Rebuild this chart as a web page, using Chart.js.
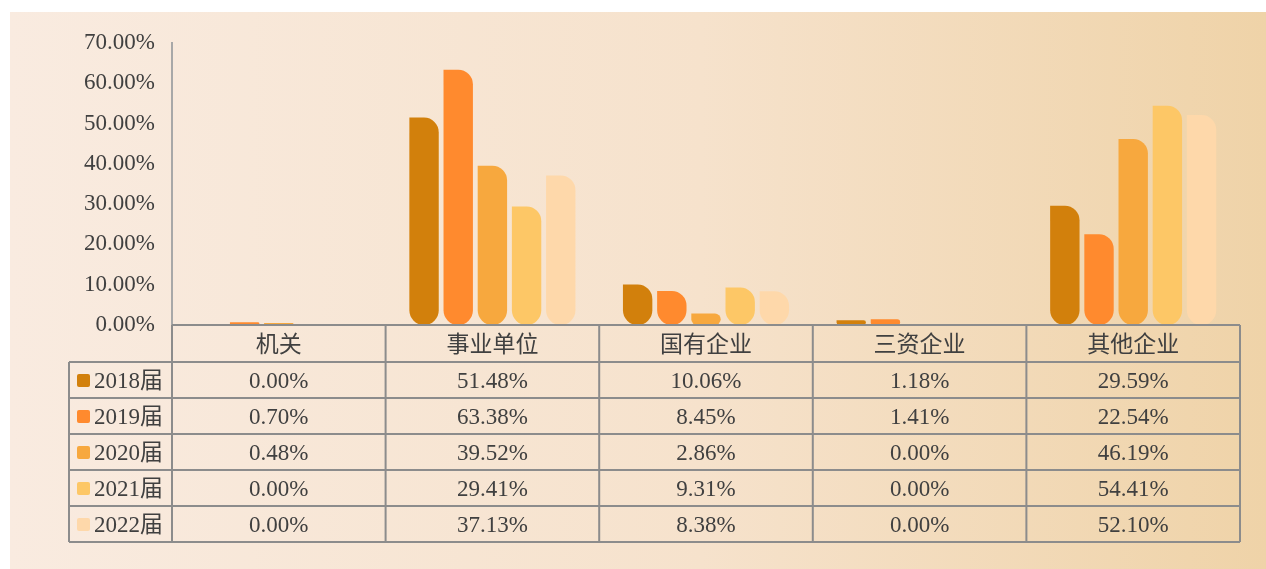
<!DOCTYPE html>
<html>
<head>
<meta charset="utf-8">
<script src="https://cdn.jsdelivr.net/npm/chart.js@4"></script>
<style>
  html, body { margin: 0; padding: 0; background: #fff; }
  #wrap {
    position: absolute; left: 10px; top: 12px; width: 1256px; height: 557px;
    background: linear-gradient(to right, #f9ebe0 0%, #f6e2cc 55%, #efd3a8 100%);
  }
</style>
</head>
<body>
<div id="wrap"><canvas id="jobChart" width="1256" height="557"></canvas></div>
<script>
// categories and series (percent)
const categories = ["机关", "事业单位", "国有企业", "三资企业", "其他企业"];
const years = ["2018届", "2019届", "2020届", "2021届", "2022届"];
const y2018 = [0.00, 51.48, 10.06, 1.18, 29.59];
const y2019 = [0.70, 63.38, 8.45, 1.41, 22.54];
const y2020 = [0.48, 39.52, 2.86, 0.00, 46.19];
const y2021 = [0.00, 29.41, 9.31, 0.00, 54.41];
const y2022 = [0.00, 37.13, 8.38, 0.00, 52.10];
const colors = ["#d2800c", "#ff8a2e", "#f7a83e", "#fdc766", "#fed8aa"];

const FONT = "'Liberation Serif', 'Noto Sans CJK SC', serif";
const TEXT = "#404040";
const LINE = "#8c8c8c";

// Draws the data table under the plot, using the x scale for columns
const dataTable = {
  id: "dataTable",
  afterDraw(chart) {
    const { ctx, chartArea, scales } = chart;
    const x = scales.x;
    const colW = (chartArea.right - chartArea.left) / categories.length;
    const top = chartArea.bottom;
    const headH = 37, rowH = 36;
    const leftX = 59;
    const bottom = top + headH + rowH * years.length;

    ctx.save();
    ctx.strokeStyle = LINE;
    ctx.lineWidth = 2;
    ctx.beginPath();
    // header top line
    ctx.moveTo(chartArea.left, top);
    ctx.lineTo(chartArea.right, top);
    // row lines
    for (let r = 0; r <= years.length; r++) {
      const y = top + headH + r * rowH;
      ctx.moveTo(leftX, y);
      ctx.lineTo(chartArea.right, y);
    }
    // vertical lines
    ctx.moveTo(leftX, top + headH);
    ctx.lineTo(leftX, bottom);
    for (let c = 0; c <= categories.length; c++) {
      const xx = chartArea.left + c * colW;
      ctx.moveTo(xx, top);
      ctx.lineTo(xx, bottom);
    }
    ctx.stroke();

    ctx.fillStyle = TEXT;
    ctx.font = "23px " + FONT;
    ctx.textAlign = "center";
    ctx.textBaseline = "middle";
    categories.forEach((c, i) => {
      ctx.fillText(c, x.getPixelForValue(i), top + headH / 2 + 2);
    });

    chart.data.datasets.forEach((ds, r) => {
      const cy = top + headH + r * rowH + rowH / 2 + 2;
      // legend key
      ctx.fillStyle = ds.backgroundColor;
      ctx.beginPath();
      ctx.roundRect(leftX + 8, cy - 8, 13, 13, 2);
      ctx.fill();
      ctx.fillStyle = TEXT;
      ctx.textAlign = "left";
      ctx.fillText(ds.label, leftX + 25, cy);
      ctx.textAlign = "center";
      ds.data.forEach((v, i) => {
        ctx.fillText(v.toFixed(2) + "%", x.getPixelForValue(i), cy);
      });
    });
    ctx.restore();
  },
};

document.addEventListener("DOMContentLoaded", () => {
  const ctx = document.getElementById("jobChart").getContext("2d");
  const series = [y2018, y2019, y2020, y2021, y2022];

  const config = {
    type: "bar",
    data: {
      labels: categories,
      datasets: series.map((d, i) => ({
        label: years[i],
        data: d,
        backgroundColor: colors[i],
        borderSkipped: false,
        borderRadius: { topLeft: 0, topRight: 15, bottomLeft: 15, bottomRight: 15 },
        categoryPercentage: 0.8,
        barPercentage: 0.86,
      })),
    },
    options: {
      responsive: false,
      animation: false,
      layout: { padding: { left: 0, right: 26, top: 31, bottom: 244 } },
      plugins: {
        legend: { display: false },
        tooltip: { enabled: false },
      },
      scales: {
        x: { display: false },
        y: {
          min: 0,
          max: 70,
          afterFit: (scale) => { scale.width = 162; },
          grid: { display: false, drawTicks: false },
          border: { display: true, color: "#a8a8a8", width: 2 },
          ticks: {
            stepSize: 10,
            padding: 17,
            color: TEXT,
            font: { family: FONT, size: 23 },
            callback: (v) => v.toFixed(2) + "%",
          },
        },
      },
    },
    plugins: [dataTable],
  };

  new Chart(ctx, config);
});
</script>
</body>
</html>
